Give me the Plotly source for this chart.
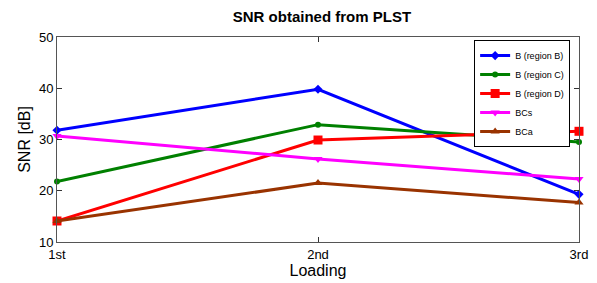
import plotly.graph_objects as go

categories = ["1st", "2nd", "3rd"]
series_names = ["B (region B)", "B (region C)", "B (region D)", "BCs", "BCa"]
b_region_b = [31.8, 39.8, 19.3]
b_region_c = [21.8, 32.9, 29.5]
b_region_d = [14.1, 29.9, 31.6]
bcs = [30.7, 26.2, 22.3]
bca = [14.1, 21.5, 17.7]
y_ticks = [10, 20, 30, 40, 50]

values = [b_region_b, b_region_c, b_region_d, bcs, bca]
colors = ["#0000FF", "#008000", "#FF0000", "#FF00FF", "#993300"]
symbols = ["diamond", "circle", "square", "triangle-down", "triangle-up"]
sizes = [7, 6, 9, 8, 8]

fig = go.Figure()
for name, v, c, s, sz in zip(series_names, values, colors, symbols, sizes):
    fig.add_trace(go.Scatter(
        x=categories, y=v, name=name, mode="lines+markers",
        line=dict(color=c, width=3),
        marker=dict(color=c, symbol=s, size=sz),
        cliponaxis=False,
    ))

axis_common = dict(showgrid=False, zeroline=False, showline=True, linecolor="#555555",
                   linewidth=1, mirror="ticks", ticks="inside", ticklen=5,
                   tickcolor="#333333", tickfont=dict(size=13, color="#000000"),
                   automargin=False)

# The page body has an 8px default margin, so the figure is sized to fit the window.
fig.update_layout(
    width=589, height=275,
    margin=dict(l=49, r=18, t=29, b=41),
    paper_bgcolor="white", plot_bgcolor="white",
    font=dict(family="Liberation Sans, Arial, sans-serif", color="#000000"),
    title=dict(text="<b>SNR obtained from PLST</b>", x=0.533, xanchor="center",
               y=0.967, yanchor="middle", font=dict(size=15), automargin=False),
    xaxis=dict(**axis_common, title=dict(text="Loading", font=dict(size=16), standoff=2),
               range=[0, 2], type="category"),
    yaxis=dict(**axis_common, title=dict(text="SNR [dB]", font=dict(size=16), standoff=4),
               range=[10, 50], tickvals=y_ticks),
    legend=dict(x=0.983, y=0.985, xanchor="right", yanchor="top",
                bordercolor="#000000", borderwidth=1, bgcolor="white",
                font=dict(size=9), tracegroupgap=0, itemwidth=30),
    showlegend=True,
)

fig.write_html("out.html")
